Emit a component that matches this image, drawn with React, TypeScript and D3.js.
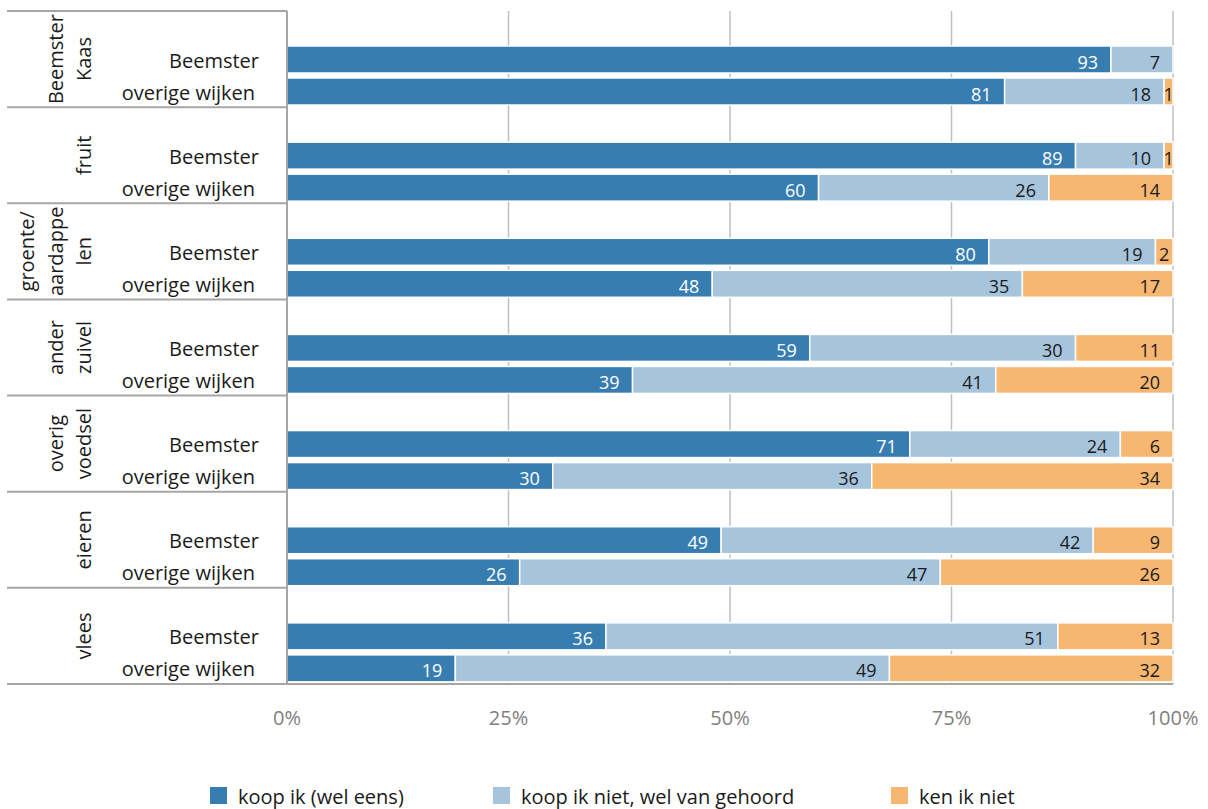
import React from "react";
import * as d3 from "d3";

const groups = ["Beemster Kaas", "fruit", "groente/aardappelen", "ander zuivel", "overig voedsel", "eieren", "vlees"];
const groupLines = [["Beemster", "Kaas"], ["fruit"], ["groente/", "aardappe", "len"], ["ander", "zuivel"], ["overig", "voedsel"], ["eieren"], ["vlees"]];
const rows = ["Beemster", "overige wijken"];
const seriesNames = ["koop ik (wel eens)", "koop ik niet, wel van gehoord", "ken ik niet"];
// values per group: [Beemster, overige wijken]
const koopIk = [[93, 81], [89, 60], [80, 48], [59, 39], [71, 30], [49, 26], [36, 19]];
const welGehoord = [[7, 18], [10, 26], [19, 35], [30, 41], [24, 36], [42, 47], [51, 49]];
const kenIkNiet = [[0, 1], [1, 14], [2, 17], [11, 20], [6, 34], [9, 26], [13, 32]];
const tickValues = [0, 0.25, 0.5, 0.75, 1];

const colors = ["#387db1", "#a6c4dc", "#f8b771"];
const FONT = "'Open Sans', 'Noto Sans', sans-serif";

type Row = { group: string; gi: number; row: string; k: number; w: number; n: number };

export default function App() {
  const W = 1208, H = 809;
  const xLeft = 287, xRight = 1173, yTop = 11, yBottom = 684;
  const x = d3.scaleLinear().domain([0, 1]).range([xLeft, xRight]);
  const yGroup = d3.scaleBand<string>().domain(groups).range([yTop, yBottom]).padding(0);
  const gh = yGroup.bandwidth();

  const data: Row[] = [];
  groups.forEach((g, gi) => {
    rows.forEach((r, ri) => {
      data.push({ group: g, gi, row: r, k: koopIk[gi][ri], w: welGehoord[gi][ri], n: kenIkNiet[gi][ri] });
    });
  });
  const stack = d3.stack<Row>().keys(["k", "w", "n"]).offset(d3.stackOffsetExpand);
  const stacked = stack(data as any);

  const yRow = (g: string) =>
    d3.scaleBand<string>().domain(rows).range([(yGroup(g) as number) + 35, (yGroup(g) as number) + 94]).paddingInner(5 / 32).paddingOuter(0);

  const separators = [...groups.map((g) => yGroup(g) as number), yBottom];

  return (
    <svg width={W} height={H} style={{ position: "absolute", left: 0, top: 0, background: "#fff" }} fontFamily={FONT}>
      {/* gridlines */}
      {tickValues.slice(1).map((t) => (
        <line key={t} x1={x(t)} x2={x(t)} y1={yTop} y2={yBottom} stroke="#bfbfbf" strokeWidth={1.5} />
      ))}
      {/* bars */}
      {stacked.map((s, si) => (
        <g key={si}>
          {s.map((d, i) => {
            const row = data[i];
            const yr = yRow(row.group);
            const y0 = yr(row.row) as number;
            const bh = yr.bandwidth();
            const x0 = x(d[0]), x1 = x(d[1]);
            const val = [row.k, row.w, row.n][si];
            if (val === 0) return null;
            const wSeg = x1 - x0;
            const tw = String(val).length * 10.3;
            const fits = wSeg >= tw + 26;
            return (
              <g key={i}>
                <rect x={x0} y={y0} width={wSeg} height={bh} fill={colors[si]} stroke="#fff" strokeWidth={1.5} />
                <text
                  x={fits ? x1 - 13 : (x0 + x1) / 2}
                  y={y0 + bh - 4.5}
                  textAnchor={fits ? "end" : "middle"}
                  fontSize={18}
                  fill={si === 0 ? "#ffffff" : "#1a1a1a"}
                >
                  {val}
                </text>
              </g>
            );
          })}
        </g>
      ))}
      {/* separators & axis lines */}
      {separators.map((y, i) => (
        <line key={i} x1={7} x2={xLeft} y1={y} y2={y} stroke="#a6a6a6" strokeWidth={2} />
      ))}
      <line x1={xLeft} x2={xRight} y1={yBottom} y2={yBottom} stroke="#a6a6a6" strokeWidth={2} />
      <line x1={xLeft} x2={xLeft} y1={yTop} y2={yBottom + 1} stroke="#a6a6a6" strokeWidth={2} />
      {/* row labels */}
      {groups.map((g) => {
        const yr = yRow(g);
        return rows.map((r) => (
          <text
            key={g + r}
            x={r === "Beemster" ? 259 : 255}
            y={(yr(r) as number) + yr.bandwidth() / 2 + 8}
            textAnchor="end"
            fontSize={20}
            fill="#1a1a1a"
          >
            {r}
          </text>
        ));
      })}
      {/* group labels */}
      {groups.map((g, gi) => {
        const lines = groupLines[gi];
        const cy = (yGroup(g) as number) + gh / 2;
        return lines.map((ln, li) => {
          const bx = 91 - (lines.length - 1 - li) * 28.5;
          return (
            <text key={g + li} transform={`translate(${bx},${cy}) rotate(-90)`} textAnchor="middle" fontSize={20} fill="#1a1a1a">
              {ln}
            </text>
          );
        });
      })}
      {/* x tick labels */}
      {tickValues.map((t) => (
        <text key={t} x={x(t)} y={725} textAnchor="middle" fontSize={20} fill="#7f7f7f">
          {d3.format(".0%")(t)}
        </text>
      ))}
      {/* legend */}
      {seriesNames.map((s, i) => {
        const lx = [210, 493, 891][i];
        return (
          <g key={s}>
            <rect x={lx} y={787} width={17} height={17} fill={colors[i]} />
            <text x={lx + 28} y={804} fontSize={20} fill="#1a1a1a">
              {s}
            </text>
          </g>
        );
      })}
    </svg>
  );
}
